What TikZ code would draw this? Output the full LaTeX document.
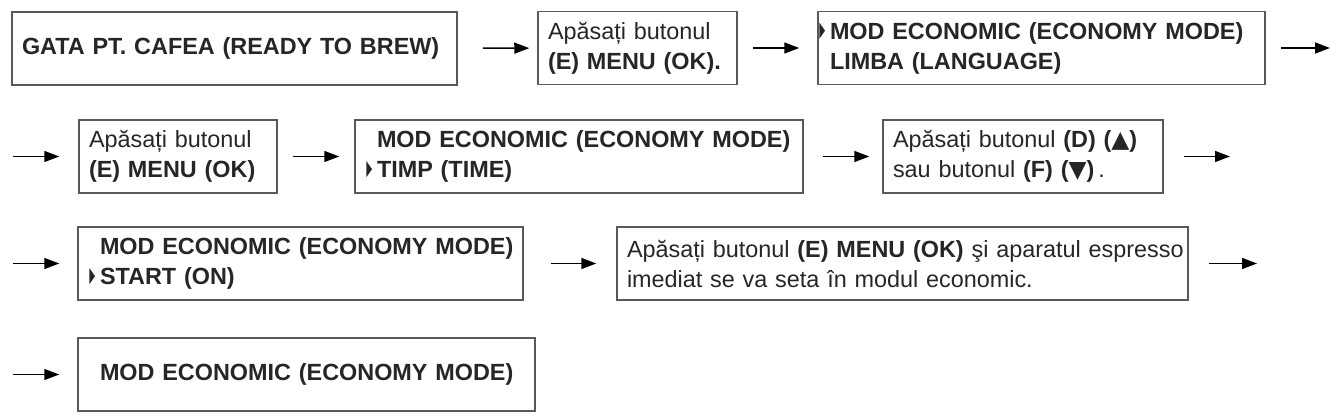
\documentclass[tikz,border=0pt]{standalone}
\usepackage{fontspec}
\setmainfont{Liberation Sans}
\newfontfamily\symfont{DejaVu Sans}
\usetikzlibrary{arrows.meta}
\usepackage{xcolor}

% small pointer in front of the selected menu line
\newcommand{\selmark}{\llap{\tikz[baseline=0pt]\fill (0pt,0.2pt)--(0pt,8.2pt)--(2.8pt,4.2pt)--cycle;\hspace{2.5pt}}}
\newcommand{\indnt}{\hspace*{6pt}}
\newcommand{\oneline}[1]{\mbox{#1}}

\begin{document}
\begin{tikzpicture}[x=0.5pt,y=-0.5pt]
 \tikzstyle{box}=[draw=black!65, line width=0.75pt, inner xsep=5pt,
                  minimum height=36.5pt, align=left, text=black!85,
                  font=\fontsize{11.7}{15}\selectfont]
 \tikzstyle{arr}=[-{Triangle[length=7.5pt,width=5.5pt]}, line width=0.75pt]

        \useasboundingbox (0,0) rectangle (1335,417);

        \node[box, text width=212.5pt] (A) at (234.5,48.5)
          {\oneline{\textbf{GATA PT. CAFEA (READY TO BREW)}}};
        \node[box, text width=89.5pt] (B) at (637.5,48)
          {\oneline{Apăsați butonul}\\ \oneline{\textbf{(E) MENU (OK).}}};
        \node[box, inner xsep=6pt, text width=211.5pt] (C) at (1041.5,48)
          {\oneline{\textbf{\selmark MOD ECONOMIC (ECONOMY MODE)}}\\ \oneline{\textbf{LIMBA (LANGUAGE)}}};
        \coordinate (c1) at (1330,48);   %end of row

        \coordinate (d0) at (13,156.5);
        \node[box, text width=89pt] (D) at (178,156.5)
          {\oneline{Apăsați butonul}\\ \oneline{\textbf{(E) MENU (OK)}}};
        \node[box, text width=214pt] (E) at (579,156.5)
          {\oneline{\indnt\textbf{MOD ECONOMIC (ECONOMY MODE)}}\\ \oneline{\indnt\selmark\textbf{TIMP (TIME)}}};
        \node[box, text width=130pt] (F) at (1023,156.5)
          {\oneline{Apăsați butonul \textbf{(D) (}{\symfont ▲}\textbf{)}}\\
           \oneline{sau butonul \textbf{(F) (}{\symfont ▼}\textbf{)}\,.}};
        \coordinate (f1) at (1230,156.5);

        \coordinate (g0) at (13,263.5);
        \node[box, text width=212.5pt] (G) at (300.5,263.5)
          {\oneline{\indnt\textbf{MOD ECONOMIC (ECONOMY MODE)}}\\ \oneline{\indnt\selmark\textbf{START (ON)}}};
        \node[box, text width=275.5pt] (H) at (902.5,263.5)
          {\oneline{Apăsați butonul \textbf{(E) MENU (OK)} şi aparatul espresso}\\
           \oneline{imediat se va seta în modul economic.}};
        \coordinate (h1) at (1257,263.5);

        \coordinate (i0) at (13,374.5);
        \node[box, text width=218.5pt] (I) at (306.5,374.5)
          {\oneline{\indnt\textbf{MOD ECONOMIC (ECONOMY MODE)}}};

        \path[arr]
    (A) edge[shorten <=12.5pt, shorten >=4pt] (B)
    (B) edge[shorten <=7.5pt, shorten >=9pt] (C)
    (C) edge[shorten <=7.5pt] (c1)
    (d0) edge[shorten >=9.5pt] (D)
    (D) edge[shorten <=7.5pt, shorten >=7.5pt] (E)
    (E) edge[shorten <=9.5pt, shorten >=6.5pt] (F)
    (F) edge[shorten <=10pt] (f1)
    (g0) edge[shorten >=9pt] (G)
    (G) edge[shorten <=13.5pt, shorten >=10pt] (H)
    (H) edge[shorten <=10pt] (h1)
    (i0) edge[shorten >=9pt] (I);

\end{tikzpicture}
\end{document}
